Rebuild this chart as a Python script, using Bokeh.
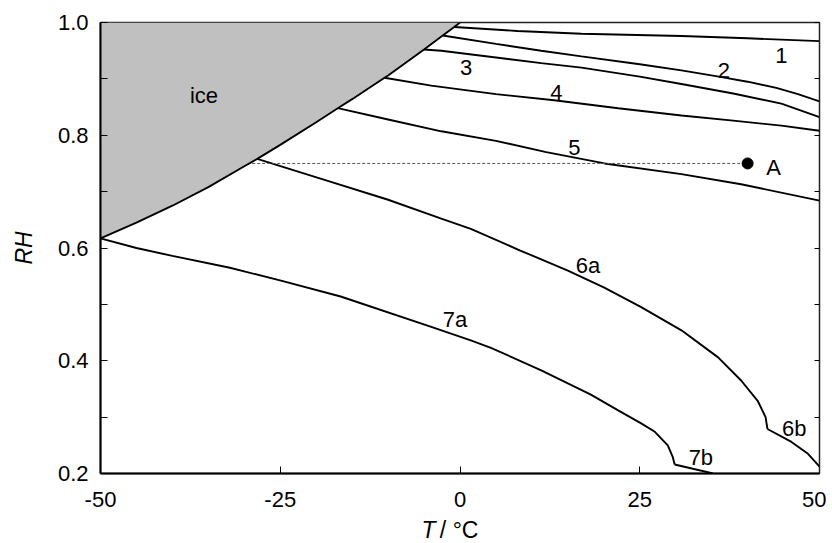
from bokeh.plotting import figure
from bokeh.layouts import column
from bokeh.models import Range1d, FixedTicker, NumeralTickFormatter, LinearAxis, Label, CustomJSTickFormatter
from bokeh.core.properties import value
from bokeh.embed import file_html
from bokeh.resources import INLINE

FONT = "Liberation Sans"

# Ice / water vapour-pressure boundary
ice_T = [-50, -45, -40, -35, -30, -28.2, -25, -20, -17, -15, -10.5, -10, -5, -2.4, -0.8, 0]
ice_RH = [0.617, 0.645, 0.675, 0.708, 0.745, 0.758, 0.783, 0.823, 0.848, 0.864, 0.902, 0.906, 0.952, 0.977, 0.992, 1.0]

c1_T = [-0.8, 8, 16.9, 30.8, 40, 50]
c1_RH = [0.992, 0.985, 0.980, 0.976, 0.972, 0.967]

c2_T = [-2.4, 5, 11.3, 16.9, 25, 30.8, 36, 40, 44, 47, 50]
c2_RH = [0.977, 0.962, 0.950, 0.940, 0.926, 0.915, 0.904, 0.895, 0.884, 0.873, 0.860]

c3_T = [-5.0, -2.6, 5, 11.3, 16.9, 25, 30.8, 38, 44.7, 50]
c3_RH = [0.952, 0.950, 0.938, 0.928, 0.920, 0.904, 0.891, 0.874, 0.856, 0.832]

c4_T = [-10.5, -4, 5, 13.1, 22, 30.8, 38, 44.7, 50]
c4_RH = [0.902, 0.888, 0.873, 0.862, 0.848, 0.835, 0.826, 0.817, 0.808]

c5_T = [-17, -10, -2.6, 5, 12, 20.1, 30.8, 39.1, 50]
c5_RH = [0.848, 0.828, 0.807, 0.790, 0.770, 0.750, 0.731, 0.713, 0.684]

c6a_T = [-28.2, -19.4, -10.1, -2.6, 1.5, 8.3, 15.0, 20.0, 25.2, 30.8, 35.9, 39.1, 41.4, 42.5, 42.76]
c6a_RH = [0.758, 0.723, 0.686, 0.652, 0.634, 0.596, 0.560, 0.530, 0.495, 0.454, 0.406, 0.365, 0.329, 0.300, 0.279]

c6b_T = [42.76, 46.1, 48.4, 50]
c6b_RH = [0.279, 0.256, 0.235, 0.212]

c7a_T = [-50, -45, -40, -32, -24.9, -16.6, -4, 1.5, 4.3, 11.3, 18.2, 22, 25.2, 27.1, 28.9, 29.6, 29.85]
c7a_RH = [0.617, 0.600, 0.586, 0.565, 0.542, 0.514, 0.460, 0.436, 0.423, 0.383, 0.340, 0.312, 0.289, 0.274, 0.250, 0.229, 0.216]

c7b_T = [29.85, 35.2]
c7b_RH = [0.216, 0.200]

# Point A and its guide line
A_T = [40.0]
A_RH = [0.75]
guide_T = [-28.9, 40.0]
guide_RH = [0.75, 0.75]

# in-plot labels
lab_text = ["ice", "1", "2", "3", "4", "5", "A", "6a", "7a", "6b", "7b"]
lab_T = [-35.6, 44.7, 36.7, 0.84, 13.4, 15.9, 42.6, 17.8, -0.7, 46.5, 33.5]
lab_RH = [0.870, 0.941, 0.915, 0.920, 0.875, 0.779, 0.743, 0.569, 0.473, 0.279, 0.228]
lab_align = ["center"] * 6 + ["left"] + ["center"] * 4

x_ticks = [-50, -25, 0, 25, 50]
x_tick_labels = ["-50", "-25", "0", "25", "50"]
y_ticks = [0.2, 0.4, 0.6, 0.8, 1.0]
y_minor = [0.3, 0.5, 0.7, 0.9]

W = 826
p = figure(width=W, height=512, x_range=Range1d(-50, 50), y_range=Range1d(0.2, 1.0),
           output_backend="svg", toolbar_location=None,
           min_border_left=100, min_border_right=W - 100 - 719, min_border_top=22, min_border_bottom=39)
p.grid.visible = False
p.outline_line_color = "#222222"
p.outline_line_width = 1.5
p.background_fill_color = "white"
p.border_fill_color = "white"

# ice region
p.patch(x=ice_T + [ice_T[0]], y=ice_RH + [ice_RH[-1]], fill_color="#c0c0c0", line_color=None)
p.line(ice_T, ice_RH, line_color="black", line_width=1.9)

for xs, ys in [(c1_T, c1_RH), (c2_T, c2_RH), (c3_T, c3_RH), (c4_T, c4_RH), (c5_T, c5_RH),
               (c6a_T, c6a_RH), (c6b_T, c6b_RH), (c7a_T, c7a_RH), (c7b_T, c7b_RH)]:
    p.line(xs, ys, line_color="black", line_width=1.9)

p.line(guide_T, guide_RH, line_color="#555555", line_width=1, line_dash="3 2")
p.scatter(A_T, A_RH, size=11, fill_color="black", line_color="black")

for t, x, y, al in zip(lab_text, lab_T, lab_RH, lab_align):
    p.add_layout(Label(x=x, y=y, text=t, text_font=FONT, text_font_size="22px",
                       text_align=al, text_baseline="middle", text_color="black"))

# axes
xa = p.xaxis[0]
xa.ticker = FixedTicker(ticks=x_ticks)
xa.major_label_overrides = {k: v for k, v in zip(x_ticks, x_tick_labels)}
xa.major_tick_in = 7
xa.major_tick_out = 0
xa.minor_tick_in = 0
xa.minor_tick_out = 0
xa.axis_line_width = 2
xa.axis_line_color = "black"
xa.major_tick_line_color = "black"
xa.major_label_text_font = FONT
xa.major_label_text_font_size = "22px"
xa.major_label_text_color = "black"
xa.major_label_standoff = 18

ya = p.yaxis[0]
ya.ticker = FixedTicker(ticks=y_ticks, minor_ticks=y_minor)
ya.formatter = NumeralTickFormatter(format="0.0")
ya.major_tick_in = 7
ya.major_tick_out = 0
ya.minor_tick_in = 7
ya.minor_tick_out = 0
ya.minor_tick_line_color = "black"
ya.axis_line_width = 2
ya.axis_line_color = "black"
ya.major_label_text_font = FONT
ya.major_label_text_font_size = "22px"
ya.major_label_text_color = "black"
ya.major_label_standoff = 12
ya.axis_label = "RH"
ya.axis_label_text_font = FONT
ya.axis_label_text_font_size = "23px"
ya.axis_label_text_font_style = "italic"
ya.axis_label_text_color = "black"
ya.axis_label_standoff = 18

ra = LinearAxis(ticker=FixedTicker(ticks=y_ticks, minor_ticks=y_minor),
                formatter=CustomJSTickFormatter(code="return ''"))
ra.major_tick_in = 5
ra.major_tick_out = 0
ra.minor_tick_in = 5
ra.minor_tick_out = 0
ra.minor_tick_line_color = "black"
ra.major_label_text_font_size = "0px"
ra.major_label_standoff = 0
ra.axis_line_color = "#222222"
p.add_layout(ra, "right")

# x-axis title strip (mixed italic / upright text)
t = figure(width=W, height=31, x_range=p.x_range, y_range=Range1d(0, 1),
           output_backend="svg", toolbar_location=None, x_axis_type=None, y_axis_type=None,
           min_border_left=100, min_border_right=W - 100 - 719, min_border_top=0, min_border_bottom=0)
t.grid.visible = False
t.outline_line_color = None
t.border_fill_color = "white"
t.background_fill_color = "white"
t.text(x=[-3.4], y=[0.45], text=["T"], text_font=value(FONT), text_font_size="23px",
       text_font_style="italic", text_align="right", text_baseline="middle", text_color="black")
t.text(x=[-2.8], y=[0.45], text=["/ °C"], text_font=value(FONT), text_font_size="23px",
       text_align="left", text_baseline="middle", text_color="black")

layout = column(p, t, spacing=0)
open("out.html", "w").write(file_html(layout, INLINE))
